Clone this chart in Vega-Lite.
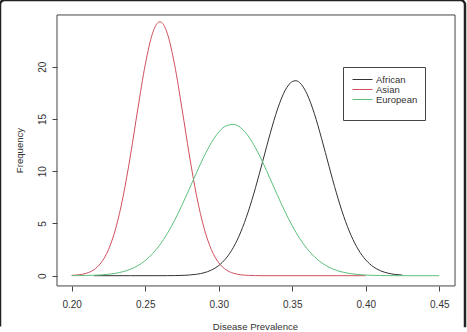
{
  "$schema": "https://vega.github.io/schema/vega-lite/v6.json",
  "width": 465,
  "height": 332,
  "padding": {"left": 0, "top": 0, "right": 2, "bottom": 0},
  "autosize": {"type": "none"},
  "background": "white",
  "config": {
    "font": "Liberation Sans",
    "view": {"stroke": "#222222", "strokeWidth": 2.5, "cornerRadius": 5, "strokeDash": [784.85, 470.71, 329.85, 10]},
    "axis": {"labelFont": "Liberation Sans", "titleFont": "Liberation Sans", "labelColor": "#333333", "titleColor": "#333333", "titleFontWeight": "normal", "tickColor": "#444444", "grid": false, "domain": false}
  },
  "layer": [
    {
      "data": {"values": [{"box": "plot"}]},
      "mark": {"type": "rect", "filled": false, "stroke": "#444444", "strokeWidth": 1},
      "encoding": {
        "x": {"datum": 0.19, "type": "quantitative", "scale": {"domain": [0.15124, 0.46748], "nice": false, "zero": false}},
        "x2": {"datum": 0.4607},
        "y": {"datum": -0.98, "type": "quantitative", "scale": {"domain": [-5.3876, 26.383], "nice": false, "zero": false}},
        "y2": {"datum": 24.95}
      }
    },
    {
      "data": {"values": [
        {"x": 0.215, "y": 0, "group": "African"},
        {"x": 0.24, "y": 0, "group": "African"},
        {"x": 0.26, "y": 0.002, "group": "African"},
        {"x": 0.265, "y": 0.005, "group": "African"},
        {"x": 0.27, "y": 0.012, "group": "African"},
        {"x": 0.275, "y": 0.029, "group": "African"},
        {"x": 0.28, "y": 0.065, "group": "African"},
        {"x": 0.285, "y": 0.139, "group": "African"},
        {"x": 0.29, "y": 0.281, "group": "African"},
        {"x": 0.295, "y": 0.538, "group": "African"},
        {"x": 0.3, "y": 0.974, "group": "African"},
        {"x": 0.305, "y": 1.672, "group": "African"},
        {"x": 0.31, "y": 2.72, "group": "African"},
        {"x": 0.315, "y": 4.19, "group": "African"},
        {"x": 0.32, "y": 6.1, "group": "African"},
        {"x": 0.325, "y": 8.42, "group": "African"},
        {"x": 0.33, "y": 11.0, "group": "African"},
        {"x": 0.335, "y": 13.61, "group": "African"},
        {"x": 0.34, "y": 15.95, "group": "African"},
        {"x": 0.345, "y": 17.69, "group": "African"},
        {"x": 0.3475, "y": 18.25, "group": "African"},
        {"x": 0.35, "y": 18.58, "group": "African"},
        {"x": 0.3525, "y": 18.66, "group": "African"},
        {"x": 0.355, "y": 18.48, "group": "African"},
        {"x": 0.3575, "y": 18.05, "group": "African"},
        {"x": 0.36, "y": 17.4, "group": "African"},
        {"x": 0.365, "y": 15.52, "group": "African"},
        {"x": 0.37, "y": 13.1, "group": "African"},
        {"x": 0.375, "y": 10.47, "group": "African"},
        {"x": 0.38, "y": 7.93, "group": "African"},
        {"x": 0.385, "y": 5.68, "group": "African"},
        {"x": 0.39, "y": 3.86, "group": "African"},
        {"x": 0.395, "y": 2.48, "group": "African"},
        {"x": 0.4, "y": 1.51, "group": "African"},
        {"x": 0.405, "y": 0.869, "group": "African"},
        {"x": 0.41, "y": 0.474, "group": "African"},
        {"x": 0.415, "y": 0.245, "group": "African"},
        {"x": 0.42, "y": 0.12, "group": "African"},
        {"x": 0.425, "y": 0.055, "group": "African"},
        {"x": 0.2, "y": 0.03, "group": "Asian"},
        {"x": 0.205, "y": 0.088, "group": "Asian"},
        {"x": 0.21, "y": 0.233, "group": "Asian"},
        {"x": 0.215, "y": 0.563, "group": "Asian"},
        {"x": 0.22, "y": 1.24, "group": "Asian"},
        {"x": 0.225, "y": 2.49, "group": "Asian"},
        {"x": 0.23, "y": 4.56, "group": "Asian"},
        {"x": 0.235, "y": 7.6, "group": "Asian"},
        {"x": 0.24, "y": 11.55, "group": "Asian"},
        {"x": 0.245, "y": 15.99, "group": "Asian"},
        {"x": 0.25, "y": 20.18, "group": "Asian"},
        {"x": 0.255, "y": 23.2, "group": "Asian"},
        {"x": 0.2575, "y": 24.02, "group": "Asian"},
        {"x": 0.26, "y": 24.3, "group": "Asian"},
        {"x": 0.2625, "y": 24.02, "group": "Asian"},
        {"x": 0.265, "y": 23.2, "group": "Asian"},
        {"x": 0.27, "y": 20.18, "group": "Asian"},
        {"x": 0.275, "y": 15.99, "group": "Asian"},
        {"x": 0.28, "y": 11.55, "group": "Asian"},
        {"x": 0.285, "y": 7.6, "group": "Asian"},
        {"x": 0.29, "y": 4.56, "group": "Asian"},
        {"x": 0.295, "y": 2.49, "group": "Asian"},
        {"x": 0.3, "y": 1.24, "group": "Asian"},
        {"x": 0.305, "y": 0.563, "group": "Asian"},
        {"x": 0.31, "y": 0.233, "group": "Asian"},
        {"x": 0.315, "y": 0.088, "group": "Asian"},
        {"x": 0.32, "y": 0.03, "group": "Asian"},
        {"x": 0.325, "y": 0.01, "group": "Asian"},
        {"x": 0.33, "y": 0, "group": "Asian"},
        {"x": 0.4, "y": 0, "group": "Asian"},
        {"x": 0.2, "y": 0.006, "group": "European"},
        {"x": 0.205, "y": 0.011, "group": "European"},
        {"x": 0.21, "y": 0.022, "group": "European"},
        {"x": 0.215, "y": 0.042, "group": "European"},
        {"x": 0.22, "y": 0.077, "group": "European"},
        {"x": 0.225, "y": 0.137, "group": "European"},
        {"x": 0.23, "y": 0.234, "group": "European"},
        {"x": 0.235, "y": 0.388, "group": "European"},
        {"x": 0.24, "y": 0.622, "group": "European"},
        {"x": 0.245, "y": 0.966, "group": "European"},
        {"x": 0.25, "y": 1.451, "group": "European"},
        {"x": 0.255, "y": 2.107, "group": "European"},
        {"x": 0.26, "y": 2.963, "group": "European"},
        {"x": 0.265, "y": 4.028, "group": "European"},
        {"x": 0.27, "y": 5.3, "group": "European"},
        {"x": 0.275, "y": 6.75, "group": "European"},
        {"x": 0.28, "y": 8.31, "group": "European"},
        {"x": 0.285, "y": 9.9, "group": "European"},
        {"x": 0.29, "y": 11.41, "group": "European"},
        {"x": 0.295, "y": 12.73, "group": "European"},
        {"x": 0.3, "y": 13.74, "group": "European"},
        {"x": 0.305, "y": 14.34, "group": "European"},
        {"x": 0.31, "y": 14.48, "group": "European"},
        {"x": 0.315, "y": 14.15, "group": "European"},
        {"x": 0.32, "y": 13.38, "group": "European"},
        {"x": 0.325, "y": 12.23, "group": "European"},
        {"x": 0.33, "y": 10.83, "group": "European"},
        {"x": 0.335, "y": 9.27, "group": "European"},
        {"x": 0.34, "y": 7.68, "group": "European"},
        {"x": 0.345, "y": 6.15, "group": "European"},
        {"x": 0.35, "y": 4.77, "group": "European"},
        {"x": 0.355, "y": 3.58, "group": "European"},
        {"x": 0.36, "y": 2.6, "group": "European"},
        {"x": 0.365, "y": 1.82, "group": "European"},
        {"x": 0.37, "y": 1.24, "group": "European"},
        {"x": 0.375, "y": 0.813, "group": "European"},
        {"x": 0.38, "y": 0.517, "group": "European"},
        {"x": 0.385, "y": 0.318, "group": "European"},
        {"x": 0.39, "y": 0.189, "group": "European"},
        {"x": 0.395, "y": 0.109, "group": "European"},
        {"x": 0.4, "y": 0.061, "group": "European"},
        {"x": 0.405, "y": 0.033, "group": "European"},
        {"x": 0.41, "y": 0.017, "group": "European"},
        {"x": 0.42, "y": 0.004, "group": "European"},
        {"x": 0.43, "y": 0.001, "group": "European"},
        {"x": 0.45, "y": 0, "group": "European"}
      ]},
      "mark": {"type": "line", "interpolate": "monotone", "strokeWidth": 1},
      "encoding": {
        "x": {
          "field": "x", "type": "quantitative",
          "scale": {"domain": [0.15124, 0.46748], "nice": false, "zero": false},
          "axis": {
            "title": "Disease Prevalence", "values": [0.2, 0.25, 0.3, 0.35, 0.4, 0.45], "format": ".2f",
            "offset": -46, "domain": false, "grid": false, "tickSize": 5, "labelFontSize": 10, "labelBaseline": "alphabetic", "labelPadding": 16.7,
            "labelFlush": false, "labelOverlap": false,
            "titleFontSize": 9.6, "titleX": 255, "titleY": 43.5, "titleBaseline": "alphabetic", "titleAlign": "center", "titleAnchor": null
          }
        },
        "y": {
          "field": "y", "type": "quantitative",
          "scale": {"domain": [-5.3876, 26.383], "nice": false, "zero": false},
          "axis": {
            "title": "Frequency", "values": [0, 5, 10, 15, 20], "format": "d",
            "offset": -57, "domain": false, "grid": false, "tickSize": 5, "labelFontSize": 10, "labelAngle": 270, "labelAlign": "center", "labelBaseline": "alphabetic", "labelPadding": 7,
            "labelFlush": false, "labelOverlap": false,
            "titleFontSize": 9.6, "titleAngle": 270, "titleX": -34.5, "titleY": 150, "titleBaseline": "alphabetic", "titleAlign": "center", "titleAnchor": null
          }
        },
        "color": {
          "field": "group", "type": "nominal",
          "scale": {"domain": ["African", "Asian", "European"], "range": ["#333333", "#d0505f", "#5cc07c"]},
          "legend": {
            "orient": "none", "legendX": 343, "legendY": 67, "padding": 7,
            "strokeColor": "#444444", "fillColor": "white",
            "symbolType": "M-2,0H2", "symbolSize": 100, "symbolStrokeWidth": 1, "symbolFillColor": "transparent",
            "symbolOffset": 7, "labelOffset": 8, "labelFontSize": 9.5, "labelColor": "#333333", "labelFont": "Liberation Sans",
            "rowPadding": 0,
            "title": " ", "titleOrient": "bottom", "titleFontSize": 6, "titlePadding": 3
          }
        }
      }
    }
  ]
}
